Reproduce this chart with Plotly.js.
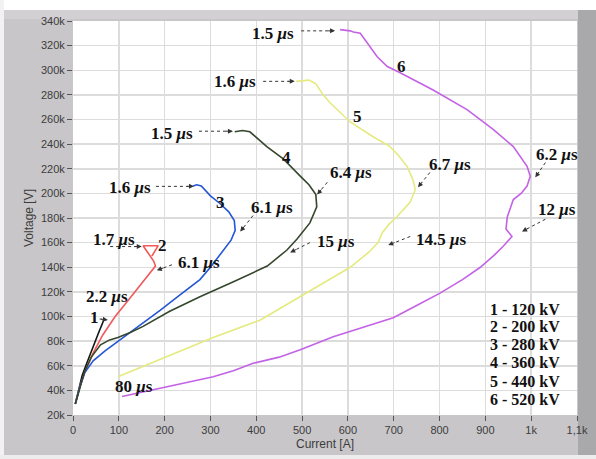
<!DOCTYPE html>
<html>
<head>
<meta charset="utf-8">
<script src="https://cdn.plot.ly/plotly-3.0.1.min.js"></script>
<style>html,body{margin:0;padding:0;background:#fff;}#chart{width:596px;height:459px;}</style>
</head>
<body>
<div id="chart"></div>
<script>
// ---- data (current [A], voltage [V]) ----
const seriesNames = ['1 - 120 kV', '2 - 200 kV', '3 - 280 kV', '4 - 360 kV', '5 - 440 kV', '6 - 520 kV'];

const I1 = [5, 12, 20, 30, 42, 55, 67];
const V1 = [29000, 40000, 52000, 62000, 74000, 86000, 97000];

const I2 = [5, 15, 28, 45, 65, 92, 118, 140, 158, 172, 180, 176, 170, 153, 186, 172];
const V2 = [29000, 43000, 57000, 71000, 85000, 100000, 112000, 122000, 131000, 137000, 141000, 145000, 148000, 157500, 157500, 149000];

const I3 = [5, 15, 25, 44, 70, 103, 150, 190, 235, 277, 300, 325, 345, 354, 352, 340, 320, 300, 288, 280, 270, 262];
const V3 = [29000, 43000, 54000, 64000, 72000, 81000, 94000, 105000, 118000, 130000, 140000, 152000, 162000, 170000, 178000, 185000, 192000, 198000, 203000, 206000, 207000, 206000];

const I4 = [5, 15, 25, 40, 60, 80, 98, 125, 153, 210, 277, 349, 424, 467, 489, 517, 532, 530, 515, 496, 459, 423, 401, 386, 370, 353];
const V4 = [29000, 43000, 55000, 67000, 77000, 81000, 83000, 87000, 92000, 104000, 116000, 128000, 141000, 154000, 163000, 176000, 189000, 199000, 207000, 214000, 228000, 238000, 245000, 250000, 251000, 250000];

const I5 = [98, 150, 205, 306, 408, 496, 550, 605, 645, 666, 675, 690, 707, 736, 747, 742, 729, 710, 692, 655, 605, 580, 560, 546, 530, 515, 487];
const V5 = [51000, 59000, 67000, 83000, 97000, 116000, 128000, 140000, 152000, 160000, 168000, 175000, 181000, 193000, 203000, 211000, 222000, 231000, 238000, 246000, 258000, 267000, 274000, 280000, 289000, 292000, 291000];

const I6 = [107, 150, 205, 260, 306, 350, 393, 450, 496, 568, 630, 699, 750, 801, 850, 889, 920, 939, 958, 945, 948, 961, 978, 991, 998, 991, 961, 917, 860, 786, 714, 686, 664, 642, 627, 612, 605, 583];
const V6 = [35000, 38500, 43000, 47000, 51000, 56000, 62000, 67000, 73000, 83500, 91000, 99000, 109000, 119000, 130000, 140000, 150000, 157000, 165000, 171000, 181000, 195000, 200000, 206000, 214000, 222000, 238000, 252000, 268000, 284000, 298000, 303000, 311000, 322000, 330000, 331000, 332000, 333000];

const xTickVals = [0, 100, 200, 300, 400, 500, 600, 700, 800, 900, 1000, 1100];
const xTickText = ['0', '100', '200', '300', '400', '500', '600', '700', '800', '900', '1k', '1,1k'];
const yTickVals = [20000, 40000, 60000, 80000, 100000, 120000, 140000, 160000, 180000, 200000, 220000, 240000, 260000, 280000, 300000, 320000, 340000];
const yTickText = ['20k', '40k', '60k', '80k', '100k', '120k', '140k', '160k', '180k', '200k', '220k', '240k', '260k', '280k', '300k', '320k', '340k'];

// time labels: [text, current, voltage]
const timeLabels = [
  ['1.5', 437, 329500], ['1.6', 354, 291000], ['1.5', 216, 249000], ['1.6', 125, 205000],
  ['1.7', 90, 162500], ['6.1', 274, 144000], ['2.2', 74, 116000], ['6.1', 434, 188600],
  ['6.4', 607, 217000], ['15', 574, 161000], ['6.7', 823, 223600], ['14.5', 803, 162500],
  ['6.2', 1057, 231700], ['12', 1057, 187000], ['80', 133, 42800]
];
// curve number labels: [text, current, voltage]
const curveLabels = [['1', 46, 99000], ['2', 196, 157500], ['3', 321, 192600], ['4', 467, 229000], ['5', 620, 262700], ['6', 718, 303400]];
// arrows: [fromI, fromV, toI, toV]
const arrows = [
  [498, 332000, 572, 332000], [415, 291000, 484, 291000], [275, 250500, 349, 250500], [181, 205700, 264, 205700],
  [81, 156800, 150, 156800], [216, 142000, 183, 137500], [58, 98000, 76, 97200], [393, 182000, 365, 169000],
  [555, 209000, 533, 199000], [517, 160000, 474, 152000], [779, 217000, 753, 205000], [736, 165000, 688, 158000],
  [1031, 225000, 1009, 213000], [1031, 179000, 980, 169000]
];
const legendV = [106000, 91700, 77000, 62300, 47600, 32600];

// ---- traces ----
const colors = ['#151515', '#f05a5a', '#2456d8', '#34472c', '#e4ea7e', '#c462e6'];
const IX = [I1, I2, I3, I4, I5, I6], VY = [V1, V2, V3, V4, V5, V6];
const traces = IX.map((xs, k) => ({
  x: xs, y: VY[k], type: 'scatter', mode: 'lines', name: seriesNames[k],
  line: {color: colors[k], width: 1.6}, hoverinfo: 'skip'
}));

// ---- layout ----
const W = 504, H = 394, XR = [0, 1100], YR = [20000, 340000];
const sx = W / (XR[1] - XR[0]), sy = H / (YR[1] - YR[0]);
const serif = 'Liberation Serif, Times New Roman, serif';
const annotations = [];
const shapes = [];

timeLabels.forEach(t => annotations.push({
  x: t[1], y: t[2], xref: 'x', yref: 'y', showarrow: false,
  text: t[0] + ' <i>μ</i>s', font: {family: serif, size: 17, color: '#111', weight: 'bold'}
}));
curveLabels.forEach(t => annotations.push({
  x: t[1], y: t[2], xref: 'x', yref: 'y', showarrow: false,
  text: t[0], font: {family: serif, size: 17, color: '#111', weight: 'bold'}
}));
seriesNames.forEach((s, k) => annotations.push({
  x: 908, y: legendV[k], xref: 'x', yref: 'y', xanchor: 'left', showarrow: false,
  borderpad: 0,
  text: s, font: {family: serif, size: 16, color: '#111', weight: 'bold'}
}));
arrows.forEach(a => {
  const dx = (a[0] - a[2]) * sx, dy = (a[1] - a[3]) * sy;
  const L = Math.hypot(dx, dy), k = 6 / L;
  const tx = a[2] + (a[0] - a[2]) * k, ty = a[3] + (a[1] - a[3]) * k;
  shapes.push({type: 'line', xref: 'x', yref: 'y', x0: a[0], y0: a[1], x1: tx, y1: ty,
    line: {color: '#333', width: 1, dash: '3px,3px'}});
  annotations.push({x: a[2], y: a[3], xref: 'x', yref: 'y', axref: 'pixel', ayref: 'pixel',
    ax: dx * k * 1.4, ay: -dy * k * 1.4, text: '', showarrow: true, arrowhead: 2, arrowsize: 1,
    arrowwidth: 1, arrowcolor: '#333', standoff: 0, startstandoff: 0});
});

// frame pieces outside the plot area (paper coordinates)
const px = v => (v - 73) / W, py = v => (415 - v) / H;
shapes.push({type: 'rect', xref: 'paper', yref: 'paper', x0: px(-2), x1: px(600), y0: py(-2), y1: py(10), fillcolor: '#ffffff', line: {width: 0}, layer: 'below'});
shapes.push({type: 'rect', xref: 'paper', yref: 'paper', x0: px(-2), x1: px(4), y0: py(-2), y1: py(462), fillcolor: '#f2f2f2', line: {width: 0}, layer: 'below'});
shapes.push({type: 'rect', xref: 'paper', yref: 'paper', x0: px(-2), x1: px(600), y0: py(455), y1: py(462), fillcolor: '#ededed', line: {width: 0}, layer: 'below'});
shapes.push({type: 'rect', xref: 'paper', yref: 'paper', x0: px(578), x1: px(600), y0: py(10), y1: py(455), fillcolor: '#a9a8ab', line: {width: 0}, layer: 'below'});
shapes.push({type: 'rect', xref: 'paper', yref: 'paper', x0: px(4), x1: px(578), y0: py(10), y1: py(19), fillcolor: '#d2d0d3', line: {width: 0}, layer: 'below'});

const tickFont = {family: 'Liberation Sans, Arial, sans-serif', size: 11, color: '#3c3c3c'};
const layout = {
  width: 596, height: 459,
  margin: {l: 73, r: 19, t: 21, b: 44, pad: 0},
  paper_bgcolor: '#c8c6c9', plot_bgcolor: '#ffffff',
  showlegend: false,
  xaxis: {
    range: XR, tickvals: xTickVals, ticktext: xTickText, tickfont: tickFont,
    ticks: 'outside', ticklen: 5, tickcolor: '#555', tickwidth: 1,
    showgrid: true, gridcolor: '#dcdcdc', gridwidth: 1.5, zeroline: false, showline: false,
    automargin: false, fixedrange: true,
    title: {text: 'Current [A]', font: {family: 'Liberation Sans, Arial, sans-serif', size: 12, color: '#3c3c3c'}, standoff: 4}
  },
  yaxis: {
    range: YR, tickvals: yTickVals, ticktext: yTickText, tickfont: tickFont,
    ticks: 'outside', ticklen: 5, tickcolor: '#555', tickwidth: 1,
    showgrid: true, gridcolor: '#dcdcdc', gridwidth: 1.5, zeroline: false, showline: false,
    automargin: false, fixedrange: true,
    title: {text: 'Voltage [V]', font: {family: 'Liberation Sans, Arial, sans-serif', size: 12, color: '#3c3c3c'}, standoff: 4}
  },
  annotations: annotations,
  shapes: shapes
};

Plotly.newPlot('chart', traces, layout, {displayModeBar: false, staticPlot: true});
</script>
</body>
</html>
